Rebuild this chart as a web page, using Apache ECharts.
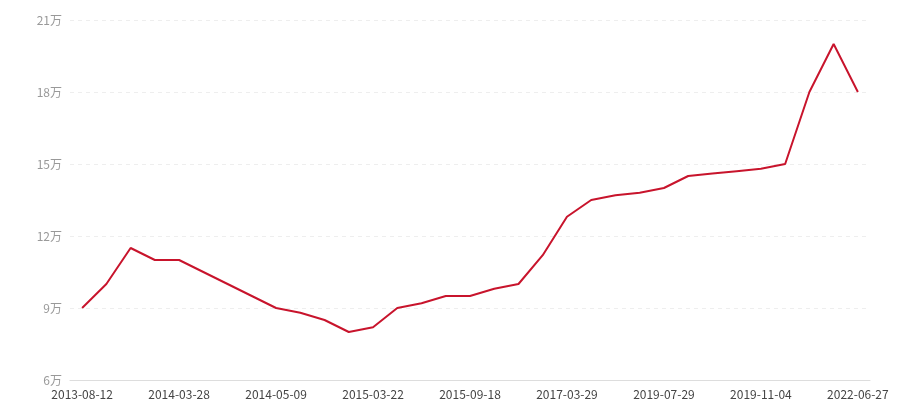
<!DOCTYPE html>
<html>
<head>
<meta charset="utf-8">
<script src="https://cdn.jsdelivr.net/npm/echarts@6/dist/echarts.min.js"></script>
<style>
html,body{margin:0;padding:0;background:#fff;}
#chart{width:900px;height:400px;}
</style>
</head>
<body>
<div id="chart"></div>
<script>
var dates = [
  '2013-08-12','2013-10-15','2013-12-06','2014-01-20',
  '2014-03-28','2014-04-08','2014-04-18','2014-04-29',
  '2014-05-09','2014-08-15','2014-10-20','2014-12-28',
  '2015-03-22','2015-05-10','2015-06-25','2015-08-06',
  '2015-09-18','2016-01-12','2016-05-20','2016-10-08',
  '2017-03-29','2017-11-15','2018-06-02','2018-12-20',
  '2019-07-29','2019-08-22','2019-09-16','2019-10-11',
  '2019-11-04','2020-08-17','2021-04-06','2021-11-19',
  '2022-06-27'
];
var prices = [
  90000, 100000, 115000, 110000,
  110000, 105000, 100000, 95000,
  90000, 88000, 85000, 80000,
  82000, 90000, 92000, 95000,
  95000, 98000, 100000, 112000,
  128000, 135000, 137000, 138000,
  140000, 145000, 146000, 147000,
  148000, 150000, 180000, 200000,
  180000
];
var yMin = 60000, yMax = 210000, yStep = 30000;

var chart = echarts.init(document.getElementById('chart'));
chart.setOption({
  animation: false,
  grid: { left: 70, right: 30, top: 20, bottom: 20 },
  xAxis: {
    type: 'category',
    data: dates,
    boundaryGap: true,
    axisLine: { lineStyle: { color: '#dddddd' } },
    axisTick: { alignWithLabel: true, interval: 3, lineStyle: { color: '#dddddd' } },
    axisLabel: {
      interval: 3,
      color: '#444',
      fontSize: 12,
      fontFamily: 'Noto Sans CJK SC',
      margin: 8
    },
    splitLine: { show: false }
  },
  yAxis: {
    type: 'value',
    min: yMin,
    max: yMax,
    interval: yStep,
    axisLine: { show: false },
    axisTick: { show: false },
    axisLabel: {
      color: '#999',
      fontSize: 12,
      fontFamily: 'Noto Sans CJK SC',
      formatter: function (v) { return (v / 10000) + '万'; }
    },
    splitLine: { lineStyle: { color: '#eeeeee', type: [4, 4] } }
  },
  series: [{
    type: 'line',
    data: prices,
    symbol: 'none',
    lineStyle: { color: '#c8142c', width: 2 },
    itemStyle: { color: '#c8142c' }
  }]
});
</script>
</body>
</html>
